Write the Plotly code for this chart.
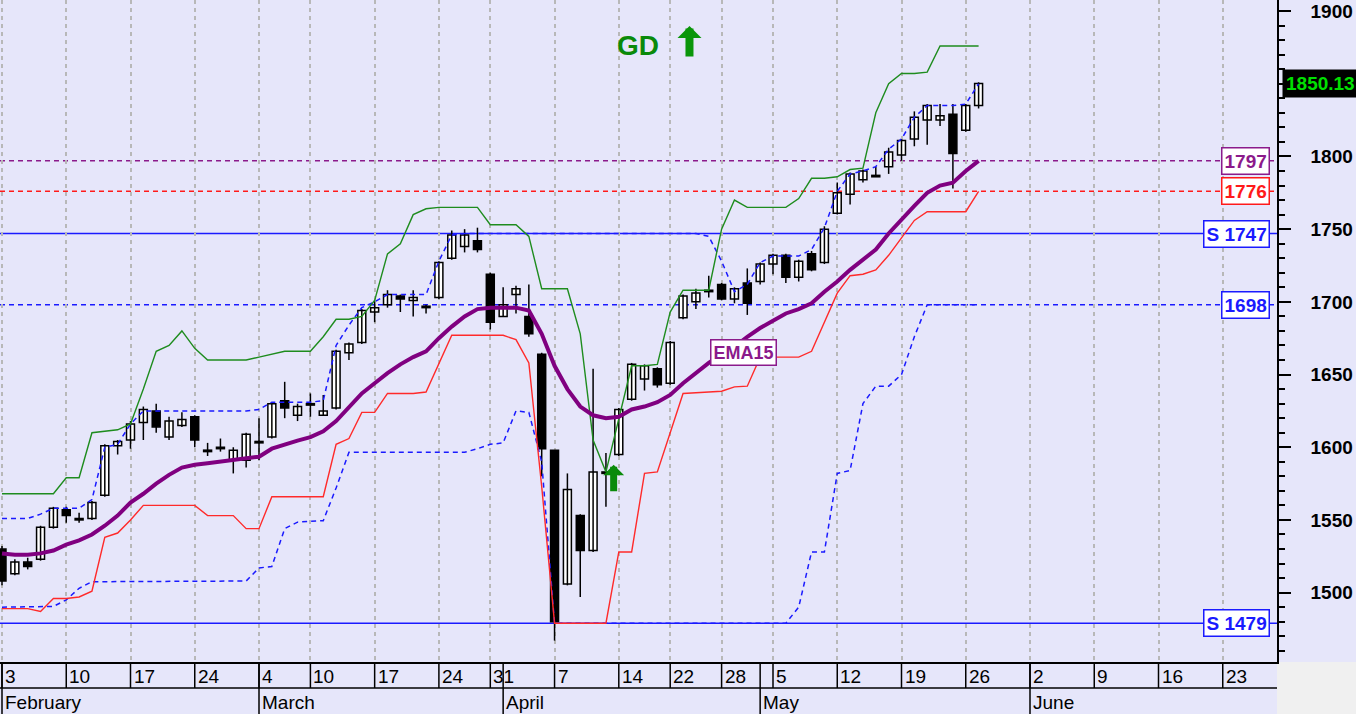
import plotly.graph_objects as go

# ---------------- data (trading-day index 0 = Feb 3) ----------------
day = list(range(77))

open_ = [1530,1513,1521,1523,1545,1557,1551,1551,1567,1601,
         1605,1617,1625,1607,1615,1621,1598,1600,1591,1591,
         1604,1607,1632,1622,1630,1622,1627,1665,1672,1693,
         1698,1704,1701,1697,1703,1730,1738,1742,1719,1690,
         1705,1690,1664,1598,1506,1553,1529,1583,1595,1633,
         1647,1654,1644,1689,1700,1708,1712,1702,1713,1714,
         1726,1732,1717,1733,1727,1761,1774,1784,1787,1793,
         1801,1812,1825,1825,1829,1818,1835]
high = [1532,1523,1524,1546,1559,1559,1555,1563,1602,1605,
        1618,1628,1630,1621,1624,1622,1603,1606,1600,1610,
        1620,1631,1645,1630,1637,1636,1667,1672,1695,1701,
        1708,1705,1708,1698,1728,1749,1750,1751,1720,1710,
        1711,1712,1665,1598,1582,1554,1654,1596,1627,1658,
        1657,1655,1673,1705,1709,1718,1713,1710,1723,1727,
        1733,1733,1729,1735,1752,1782,1789,1791,1793,1806,
        1812,1831,1836,1836,1836,1836,1851]
low = [1505,1512,1516,1522,1544,1548,1548,1550,1566,1595,
       1599,1605,1610,1605,1614,1600,1594,1597,1582,1586,
       1591,1606,1620,1618,1621,1622,1626,1660,1671,1686,
       1696,1693,1690,1692,1702,1729,1734,1734,1681,1690,
       1692,1676,1580,1467,1505,1497,1528,1559,1594,1632,
       1639,1641,1643,1688,1695,1703,1701,1699,1691,1712,
       1719,1713,1714,1721,1726,1760,1767,1782,1786,1788,
       1797,1807,1808,1821,1778,1817,1833]
close = [1508,1521,1518,1545,1558,1553,1550,1562,1601,1604,
         1616,1626,1614,1618,1619,1605,1597,1599,1598,1609,
         1603,1630,1627,1628,1629,1625,1666,1671,1694,1696,
         1705,1702,1703,1696,1727,1746,1746,1736,1686,1698,
         1709,1678,1599,1480,1571,1529,1583,1582,1626,1657,
         1656,1643,1672,1704,1706,1707,1702,1709,1699,1726,
         1732,1717,1728,1722,1750,1775,1788,1790,1786,1803,
         1811,1827,1835,1828,1802,1835,1850.13]

ema15 = [1527,1526,1526,1527,1529,1533,1536,1540,1546,1553,
         1562,1568,1575,1581,1586,1588,1589,1590,1591,1592,
         1593.5,1599,1602,1604.5,1607,1611,1618,1628,1637,1644,
         1651,1657,1662,1666,1675,1683,1690,1695,1696,1696,
         1696,1694,1678,1656,1640,1628,1622,1620,1621,1626,
         1628,1631,1636,1644,1651,1658,1664,1669,1676,1682,
         1687,1692,1695,1699,1707,1714,1722,1729,1736,1747,
         1757,1766,1775,1780,1782,1790,1797]
upper_band = [1568,1568,1568,1568,1568,1579,1579,1610,1611,1612,
              1616,1640,1666,1670,1680,1668,1660,1660,1660,1660,
              1662,1664,1666,1666,1666,1676,1688,1688,1690,1701,
              1733,1740,1760,1764,1765,1765,1765,1765,1753,1753,
              1753,1745,1709,1709,1709,1678,1605,1583,1620,1656,
              1656,1657,1693,1708,1708,1708,1750,1770,1765,1765,
              1765,1765,1771,1785,1785,1786,1791,1792,1830,1850,
              1857,1857,1858,1876,1876,1876,1876]
lower_band = [1489,1489,1489,1487,1496,1496,1497,1501,1538,1541,
              1550,1560,1560,1560,1560,1560,1553,1553,1553,1544,
              1544,1566,1566,1566,1566,1566,1602,1606,1624,1624,
              1637,1637,1637,1638,1658,1677,1677,1677,1677,1677,
              1674,1658,1573,1479,1479,1479,1479,1479,1528,1528,
              1582,1583,1610,1637,1637.5,1638,1638.5,1641.5,1642,1662,
              1662,1662,1662,1666,1686,1706,1718,1719,1722,1732,
              1744,1756,1762,1762,1762,1762,1776]
upper_stop = [1551,1551,1551,1554,1558,1558,1558,1564,1600,1602,
              1616,1625,1625,1625,1625,1625,1625,1625,1625,1625,
              1626,1631,1631,1631,1631,1632,1670,1684,1696,1700,
              1705,1705,1705,1705,1728,1746,1747,1747,1747,1747,
              1747,1747,1747,1747,1747,1747,1747,1747,1747,1747,
              1747,1747,1747,1747,1747,1745,1728,1707,1712,1727,
              1731.5,1731.5,1731.5,1736,1751,1776,1788,1790,1793,1805,
              1812,1827,1835,1835,1835,1836,1850]
lower_stop = [1490,1490,1490,1490,1490.5,1495,1503,1507.5,1507.5,1507.5,
              1507.5,1507.5,1507.5,1507.5,1507.5,1507.5,1507.5,1507.5,1507.5,1508,
              1517,1518,1544,1548.5,1549,1549.5,1572,1596.5,1596.5,1596.5,
              1596.5,1596.5,1596.5,1596.5,1596.5,1596.5,1596.5,1599,1602,1603,
              1625,1624,1590,1479,1479,1479,1479,1479,1479,1479,
              1479,1479,1479,1479,1479,1479,1479,1479,1479,1479,
              1479,1479,1490,1528,1528,1582,1584,1630,1642,1642,
              1650,1676,1698,1698,1698,1698,1698]

week_idx = [0, 5, 10, 15, 20, 24, 29, 34, 38, 43, 48, 52, 56, 60, 65, 70, 75, 80, 85, 90, 95]
week_lbl = ['3', '10', '17', '24', '4', '10', '17', '24', '31', '7', '14', '22', '28',
            '5', '12', '19', '26', '2', '9', '16', '23']
month_idx = [0, 20, 39, 59, 80]
month_lbl = ['February', 'March', 'April', 'May', 'June']

y_tick_vals = [1500, 1550, 1600, 1650, 1700, 1750, 1800, 1850, 1900]

level_vals = [1797, 1776, 1747, 1698, 1479]
level_text = ['1797', '1776', 'S 1747', '1698', 'S 1479']
level_color = ['#8B1A8B', '#FF1A1A', '#1A1AFF', '#1A1AFF', '#1A1AFF']
level_dash = ['5px,4px', '5px,4px', 'solid', '5px,4px', 'solid']

signal_day = 47.6
signal_price = 1588

# ---------------- geometry helpers ----------------
W, H = 1356, 714
ML, MR, MT, MB = 0, 79, 0, 52
PW, PH = W - ML - MR, H - MT - MB
BG = '#E6E6FA'
FONT = 'Liberation Sans, Arial, sans-serif'
NARROW = 'Liberation Sans Narrow, Arial Narrow, Liberation Sans, Arial, sans-serif'

def py(p):  # pixel offset below plot top -> paper y
    return 1 - p / PH

fig = go.Figure()

# wicks
wx, wy = [], []
for i, h, l in zip(day, high, low):
    wx += [i, i, None]
    wy += [l, h, None]
fig.add_trace(go.Scatter(x=wx, y=wy, mode='lines', line=dict(color='black', width=1.5),
                         hoverinfo='skip'))

# bodies
up = [i for i in day if close[i] >= open_[i]]
dn = [i for i in day if close[i] < open_[i]]
for idxs, fill in ((up, 'white'), (dn, 'black')):
    fig.add_trace(go.Bar(
        x=idxs,
        base=[min(open_[i], close[i]) for i in idxs],
        y=[max(abs(close[i] - open_[i]), 0.6) for i in idxs],
        width=0.62, marker=dict(color=fill, line=dict(color='black', width=1.5)),
        hoverinfo='skip'))

fig.add_trace(go.Scatter(x=day, y=upper_stop, mode='lines',
                         line=dict(color='#1A1AFF', width=1.5, dash='5px,4px'), hoverinfo='skip'))
fig.add_trace(go.Scatter(x=day, y=lower_stop, mode='lines',
                         line=dict(color='#1A1AFF', width=1.5, dash='5px,4px'), hoverinfo='skip'))
fig.add_trace(go.Scatter(x=day, y=upper_band, mode='lines',
                         line=dict(color='#1E8C1E', width=1.4), hoverinfo='skip'))
fig.add_trace(go.Scatter(x=day, y=lower_band, mode='lines',
                         line=dict(color='#FF2A2A', width=1.4), hoverinfo='skip'))
fig.add_trace(go.Scatter(x=day, y=ema15, mode='lines',
                         line=dict(color='#800080', width=4), hoverinfo='skip'))

shapes = []
annotations = []

# horizontal level lines + labels
for v, t, c, d in zip(level_vals, level_text, level_color, level_dash):
    shapes.append(dict(type='line', xref='paper', yref='y', x0=0, x1=1, y0=v, y1=v,
                       line=dict(color=c, width=1.5, dash=d), layer='below'))
    annotations.append(dict(xref='paper', yref='y', x=(PW - 7) / PW, y=v, xanchor='right',
                            yanchor='middle', text='<b>%s</b>' % t, showarrow=False,
                            font=dict(family=FONT, size=19, color=c), bgcolor='white',
                            bordercolor=c, borderwidth=1.5, borderpad=2))

# bottom date table
shapes.append(dict(type='rect', xref='paper', yref='paper', x0=1, x1=W / PW,
                   y0=py(PH + MB), y1=py(PH), fillcolor='#F0F0F0', line=dict(width=0), layer='below'))
shapes.append(dict(type='line', xref='paper', yref='paper', x0=0, x1=1, y0=py(PH + 26), y1=py(PH + 26),
                   line=dict(color='black', width=1.5)))
for i, l in zip(week_idx, week_lbl):
    shapes.append(dict(type='line', xref='x', yref='paper', x0=i, x1=i, y0=py(PH), y1=py(PH + 26),
                       line=dict(color='black', width=1.5)))
    annotations.append(dict(xref='x', yref='paper', x=i, y=py(PH + 14), xanchor='left', yanchor='middle',
                            xshift=1, text=l, showarrow=False, font=dict(family=NARROW, size=19, color='black')))
for i, l in zip(month_idx, month_lbl):
    shapes.append(dict(type='line', xref='x', yref='paper', x0=i, x1=i, y0=py(PH), y1=py(PH + MB),
                       line=dict(color='black', width=1.5)))
    annotations.append(dict(xref='x', yref='paper', x=i, y=py(PH + 40), xanchor='left', yanchor='middle',
                            xshift=1, text=l, showarrow=False, font=dict(family=NARROW, size=19, color='black')))

# last price box
annotations.append(dict(xref='paper', yref='y', x=(PW + 5) / PW, y=close[-1], xanchor='left', yanchor='middle',
                        text='<b>%.2f</b>' % close[-1], showarrow=False, bgcolor='black',
                        font=dict(family=FONT, size=19, color='#00E000'), borderpad=3))

# EMA15 label
annotations.append(dict(xref='x', yref='y', x=57.7, y=1665, text='<b>EMA15</b>', showarrow=False,
                        font=dict(family=FONT, size=18, color='#8B1A8B'), bgcolor='white',
                        bordercolor='#8B1A8B', borderwidth=1.5, borderpad=2))

# GD signal text + arrow
annotations.append(dict(xref='x', yref='paper', x=49.5, y=py(45), text='<b>GD</b>', showarrow=False,
                        font=dict(family=FONT, size=28, color='#0A8A0A'), xanchor='center', yanchor='middle'))
annotations.append(dict(xref='x', yref='paper', x=53.5, y=py(26), text='', showarrow=True,
                        ax=0, ay=32, arrowhead=1, arrowsize=0.5, arrowwidth=8, arrowcolor='#0A960A'))
# buy arrow
annotations.append(dict(xref='x', yref='y', x=signal_day, y=signal_price, text='', showarrow=True,
                        ax=0, ay=28, arrowhead=1, arrowsize=0.5, arrowwidth=7, arrowcolor='#0A8A0A'))

fig.update_layout(
    width=W, height=H, margin=dict(l=ML, r=MR, t=MT, b=MB, pad=0),
    paper_bgcolor=BG, plot_bgcolor=BG, showlegend=False, barmode='overlay',
    shapes=shapes, annotations=annotations,
    xaxis=dict(range=[-2 / 12.85, (PW - 2) / 12.85],
               tickmode='array', tickvals=week_idx, showticklabels=False, ticks='',
               showgrid=True, gridcolor='#B8B8B8', griddash='4px,4px', gridwidth=1.5,
               showline=True, linecolor='black', linewidth=1.5, zeroline=False, fixedrange=True),
    yaxis=dict(side='right', range=[1452.3, 1907.6], tickmode='array', tickvals=y_tick_vals,
               ticktext=['' if v == 1850 else str(v) for v in y_tick_vals],
               ticks='outside', ticklen=12, tickwidth=1.5, tickcolor='black',
               minor=dict(dtick=10, tick0=1500, ticks='outside', ticklen=6, tickwidth=1.5,
                          tickcolor='black', showgrid=False),
               showgrid=False, zeroline=False, showline=True, linecolor='black', linewidth=1.5,
               tickfont=dict(family=FONT, size=19, color='black', weight='bold'),
               ticklabelstandoff=16, fixedrange=True),
)

fig.write_html('out.html', config={'displayModeBar': False},
               post_script="document.body.style.margin='0';document.body.style.background='#E6E6FA';")
